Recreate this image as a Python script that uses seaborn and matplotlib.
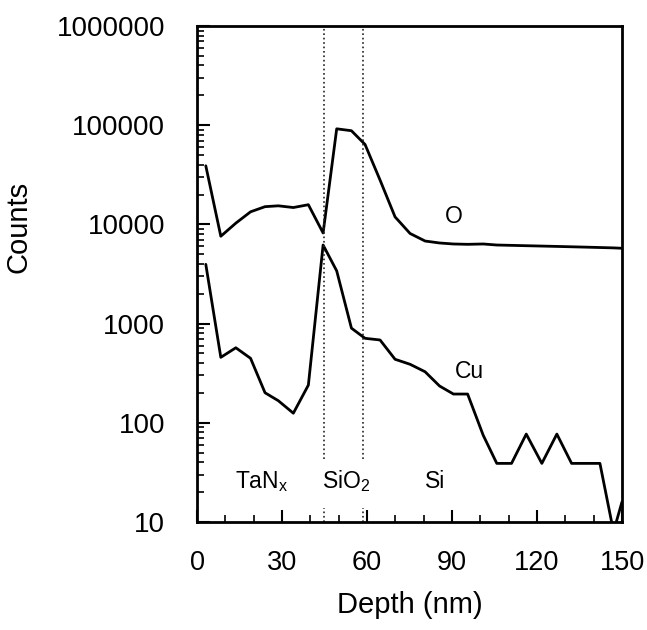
import numpy as np
import pandas as pd
import matplotlib
matplotlib.use("Agg")
import matplotlib.pyplot as plt
from matplotlib.ticker import MultipleLocator, LogLocator, NullFormatter, FixedLocator
import seaborn as sns

# depth points (nm)
depth = [3.1, 8.4, 13.7, 18.9, 24.0, 28.7, 34.0, 39.3, 44.5, 49.3,
         54.5, 59.3, 64.6, 69.9, 75.2, 80.5, 85.6, 90.5, 95.5, 101.0,
         105.8, 111.0, 116.2, 121.7, 127.0, 132.2, 137.3, 142.2, 147.0, 150.0]

o_counts = [39000, 7600, 10300, 13400, 15100, 15400, 14800, 15800, 8200, 92000,
            88000, 64000, 28000, 11900, 8100, 6800, 6500, 6350, 6300, 6350,
            6200, 6150, 6100, 6050, 6000, 5950, 5900, 5850, 5800, 5750]

cu_counts = [3960, 457, 571, 447, 201, 167, 125, 240, 6200, 3400,
             900, 711, 684, 437, 389, 327, 235, 195, 195, 75,
             39, 39, 77, 39, 77, 39, 39, 39, 8, 16]

# layer boundaries (nm)
boundaries = [44.8, 58.5]
layer_names = [r"TaN$_\mathregular{x}$", r"SiO$_\mathregular{2}$", "Si"]
layer_x = [22.8, 52.8, 84.0]

df = pd.DataFrame({
    "depth": depth * 2,
    "counts": o_counts + cu_counts,
    "element": ["O"] * len(depth) + ["Cu"] * len(depth),
})

sns.set_style("ticks")
plt.rcParams["font.family"] = ["Liberation Sans", "DejaVu Sans"]
plt.rcParams["mathtext.fontset"] = "custom"
plt.rcParams["mathtext.rm"] = "Liberation Sans"
for k in ["text.color", "axes.labelcolor", "xtick.color", "ytick.color", "axes.edgecolor"]:
    plt.rcParams[k] = "black"

fig = plt.figure(figsize=(6.47, 6.30), dpi=100)
ax = fig.add_axes([0.3045, 0.1714, 0.6569, 0.7873])

sns.lineplot(data=df, x="depth", y="counts", hue="element",
             palette={"O": "black", "Cu": "black"}, linewidth=2.0,
             legend=False, ax=ax, sort=False, estimator=None)

for b in boundaries:
    ax.vlines(b, 43, 1e6, colors="#222222", linestyles=":", linewidth=1.2)
    ax.vlines(b, 10, 13.8, colors="#222222", linestyles=":", linewidth=1.2)

for name, xx in zip(layer_names, layer_x):
    ax.text(xx, 22, name, ha="center", va="baseline", fontsize=16.5)
ax.text(90.5, 12000, "O", ha="center", va="center", fontsize=16.5)
ax.text(96, 330, "Cu", ha="center", va="center", fontsize=16.5)

ax.set_yscale("log")
ax.set_xlim(0, 150)
ax.set_ylim(10, 1e6)
ax.xaxis.set_major_locator(MultipleLocator(30))
ax.xaxis.set_minor_locator(MultipleLocator(10))
ax.yaxis.set_major_locator(FixedLocator([10, 100, 1000, 10000, 100000, 1000000]))
ax.yaxis.set_minor_locator(LogLocator(base=10, subs=np.arange(2, 10)))
ax.yaxis.set_minor_formatter(NullFormatter())
ax.set_yticklabels(["10", "100", "1000", "10000", "100000", "1000000"])

ax.tick_params(axis="both", which="major", direction="in", length=9, width=1.5,
               top=False, right=False)
ax.tick_params(axis="both", which="minor", direction="in", length=5, width=1.2,
               top=False, right=False)
ax.tick_params(axis="x", which="major", pad=20, labelsize=19.5)
ax.tick_params(axis="y", which="major", pad=23, labelsize=20)
for s in ax.spines.values():
    s.set_linewidth(2.0)

ax.set_xlabel("Depth (nm)", fontsize=21)
ax.set_ylabel("Counts", fontsize=21)
ax.xaxis.set_label_coords(0.5, -0.14)
ax.yaxis.set_label_coords(-0.386, 0.595)

plt.savefig("out.png", dpi=100)
